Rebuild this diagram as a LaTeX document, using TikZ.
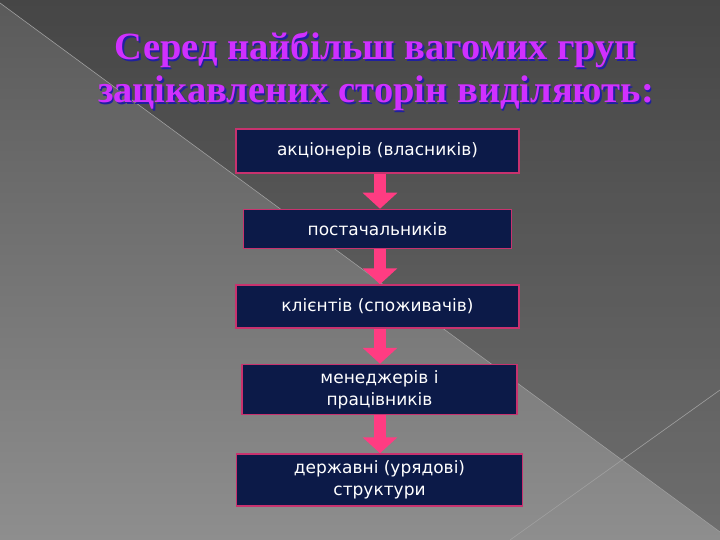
\documentclass[tikz,border=0pt]{standalone}
\usepackage{fontspec}
\setmainfont{Liberation Serif}
\newfontfamily\boxfont{DejaVu Sans}
\usetikzlibrary{arrows.meta, positioning}

\definecolor{bgtop}{HTML}{5A5A5A}
\definecolor{bgbot}{HTML}{8E8E8E}
\definecolor{bgline}{HTML}{A0A0A0}
\definecolor{boxfill}{HTML}{0C1A48}
\definecolor{boxline}{HTML}{C8326E}
\definecolor{arrowpink}{HTML}{FF3C82}
\definecolor{titlepink}{HTML}{D030FF}
\definecolor{titleshadow}{HTML}{2020A0}

\begin{document}
\begin{tikzpicture}[x=1pt, y=-1pt, node distance=35pt,
    group/.style={draw=boxline, line width=1.5pt, fill=boxfill, text=white, align=center,
                  font=\boxfont\fontsize{17}{22}\selectfont, inner sep=0pt},
    headline/.style={font=\bfseries\fontsize{38.5}{38.5}\selectfont, inner sep=0pt, anchor=base},
    flow/.style={arrowpink, line width=12pt, -{Triangle[width=34pt, length=16pt]}}]
    % Background with the two diagonals
    \useasboundingbox (0,0) rectangle (720,540);
    \shade[top color=bgtop, bottom color=bgbot] (0,0) rectangle (720,540);
    \fill[black, opacity=0.22] (0,0) -- (0,3) -- (720,532) -- (720,0) -- cycle;
    \draw[bgline, line width=0.6pt] (0,3) -- (720,532);
    \draw[bgline, line width=0.6pt] (510,540) -- (720,390);

    % Title, shadow first
    \node[headline, text=titleshadow] (head1s) at (377.5,61.5) {Серед найбільш вагомих груп};
    \node[headline, text=titlepink] (head1) at (376,60) {Серед найбільш вагомих груп};
    \node[headline, text=titleshadow] (head2s) at (377.5,104.5) {зацікавлених сторін виділяють:};
    \node[headline, text=titlepink] (head2) at (376,103) {зацікавлених сторін виділяють:};

    % Define the groups
    \node[group, minimum width=283pt, minimum height=44pt] (owners) at (377.5,151) {акціонерів (власників)};
    \node[group, minimum width=268pt, minimum height=39pt, below=of owners] (suppliers) {постачальників};
    \node[group, minimum width=283pt, minimum height=43pt, below=of suppliers] (clients) {клієнтів (споживачів)};
    \node[group, minimum width=275pt, minimum height=50pt, below=of clients, xshift=2pt] (staff) {менеджерів і\\працівників};
    \node[group, minimum width=286pt, minimum height=52pt, below=38pt of staff] (state) {державні (урядові)\\структури};

    % Arrows between the groups
    \coordinate (axis) at (380,0);
    \foreach \a/\b in {owners/suppliers, suppliers/clients, clients/staff, staff/state}
        \draw[flow] (\a.south -| axis) -- (\b.north -| axis);
\end{tikzpicture}
\end{document}
